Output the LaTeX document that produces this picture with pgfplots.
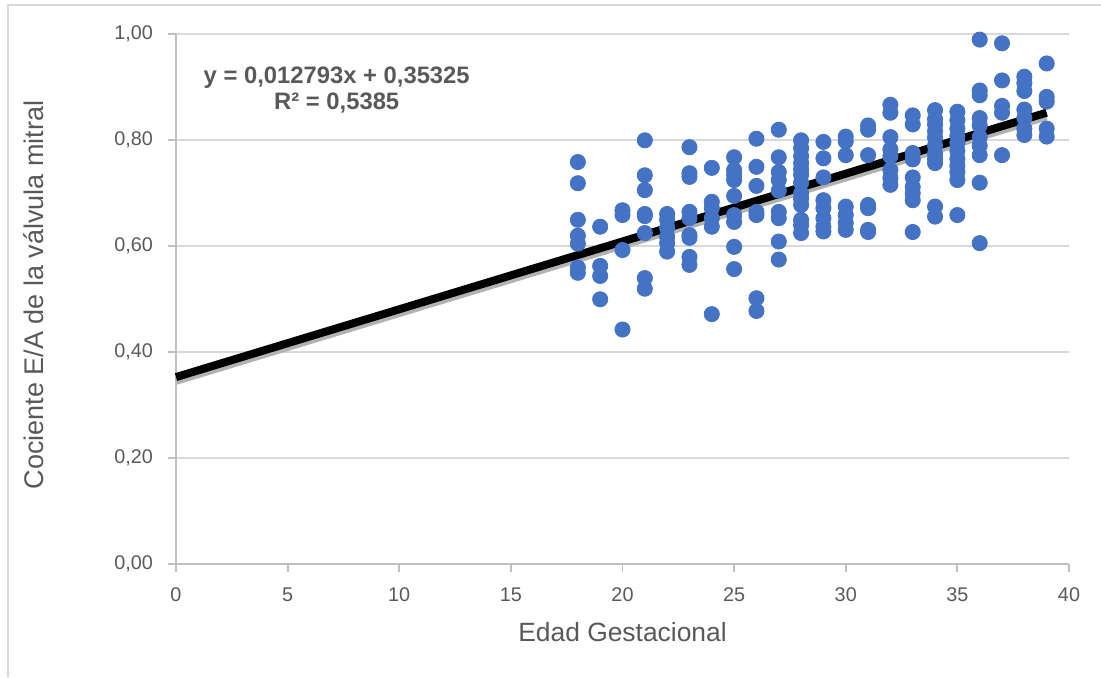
\documentclass[border=0pt]{standalone}
\usepackage{fontspec}
\setmainfont{Liberation Sans}
\usepackage{pgfplots}
\pgfplotsset{compat=1.18}

\definecolor{txtgray}{HTML}{595959}
\definecolor{gridgray}{HTML}{D9D9D9}
\definecolor{axgray}{HTML}{BFBFBF}
\definecolor{dotblue}{HTML}{4472C4}

\begin{document}
\begin{tikzpicture}
% frame of the chart area (only top and left edges are visible)
\path[use as bounding box] (-88pt,-56.35pt) rectangle (462.5pt,282.15pt);
\draw[gridgray, line width=1pt] (-84pt,-56.35pt) -- (-84pt,279.65pt) -- (462.5pt,279.65pt);
\begin{axis}[
    at={(0,0)}, anchor=south west,
    scale only axis,
    width=446.5pt, height=265pt,
    xmin=0, xmax=40, ymin=0, ymax=1,
    xtick={0,5,...,40},
    ytick={0,0.2,...,1.0},
    axis x line=bottom, axis y line=left,
    axis line style={axgray, line width=0.9pt, -},
    tick align=outside,
    major tick length=4pt,
    tick style={axgray, line width=0.9pt},
    ymajorgrids,
    grid style={gridgray, line width=0.9pt},
    /pgf/number format/assume math mode=true,
    yticklabel style={/pgf/number format/use comma, /pgf/number format/fixed,
        /pgf/number format/fixed zerofill, /pgf/number format/precision=2},
    ticklabel style={font=\fontsize{9.9}{11}\selectfont, text=txtgray},
    xticklabel style={yshift=-4pt},
    yticklabel style={xshift=-4pt},
    xlabel={Edad Gestacional},
    ylabel={Cociente E/A de la válvula mitral},
    label style={text=txtgray},
    xlabel style={font=\fontsize{13.2}{15}\selectfont, at={(axis description cs:0.5,-0.128)}, anchor=center},
    ylabel style={font=\fontsize{13.5}{15}\selectfont, at={(axis description cs:-0.159,0.508)}, anchor=center},
    clip=false,
]
\addplot[only marks, mark=*, mark size=3.8pt, mark options={draw=dotblue, fill=dotblue}] coordinates {
(18,0.759) (18,0.719) (18,0.650) (18,0.620) (18,0.605) (18,0.560) (18,0.550)
(19,0.637) (19,0.563) (19,0.544) (19,0.500)
(20,0.668) (20,0.659) (20,0.593) (20,0.443)
(21,0.800) (21,0.734) (21,0.706) (21,0.661) (21,0.657) (21,0.625) (21,0.540) (21,0.520)
(22,0.661) (22,0.650) (22,0.635) (22,0.618) (22,0.606) (22,0.590)
(23,0.787) (23,0.738) (23,0.731) (23,0.665) (23,0.653) (23,0.621) (23,0.616) (23,0.580) (23,0.565)
(24,0.748) (24,0.684) (24,0.672) (24,0.653) (24,0.637) (24,0.472)
(25,0.768) (25,0.744) (25,0.734) (25,0.725) (25,0.695) (25,0.659) (25,0.646) (25,0.599) (25,0.557)
(26,0.803) (26,0.750) (26,0.714) (26,0.665) (26,0.659) (26,0.502) (26,0.478)
(27,0.820) (27,0.768) (27,0.740) (27,0.725) (27,0.705) (27,0.665) (27,0.653) (27,0.609) (27,0.575)
(28,0.800) (28,0.785) (28,0.770) (28,0.757) (28,0.745) (28,0.735) (28,0.720) (28,0.700) (28,0.690) (28,0.678) (28,0.650) (28,0.640) (28,0.625)
(29,0.797) (29,0.766) (29,0.730) (29,0.687) (29,0.672) (29,0.653) (29,0.637) (29,0.628)
(30,0.807) (30,0.798) (30,0.772) (30,0.675) (30,0.659) (30,0.644) (30,0.631)
(31,0.828) (31,0.820) (31,0.772) (31,0.678) (31,0.672) (31,0.631) (31,0.627)
(32,0.867) (32,0.852) (32,0.806) (32,0.783) (32,0.770) (32,0.744) (32,0.729) (32,0.716)
(33,0.847) (33,0.830) (33,0.776) (33,0.764) (33,0.730) (33,0.712) (33,0.700) (33,0.687) (33,0.627)
(34,0.857) (34,0.840) (34,0.830) (34,0.817) (34,0.805) (34,0.790) (34,0.775) (34,0.765) (34,0.757) (34,0.675) (34,0.656)
(35,0.854) (35,0.838) (35,0.822) (35,0.808) (35,0.795) (35,0.780) (35,0.765) (35,0.752) (35,0.740) (35,0.725) (35,0.659)
(36,0.990) (36,0.894) (36,0.885) (36,0.842) (36,0.828) (36,0.806) (36,0.790) (36,0.772) (36,0.720) (36,0.606)
(37,0.983) (37,0.913) (37,0.865) (37,0.852) (37,0.772)
(38,0.920) (38,0.908) (38,0.893) (38,0.858) (38,0.842) (38,0.822) (38,0.810)
(39,0.945) (39,0.882) (39,0.873) (39,0.822) (39,0.807)
};
% linear trend line with its soft shadow
\addplot[gray!60, line width=3pt, transform canvas={yshift=-2.4pt}] coordinates {(0,0.35325) (39,0.852177)};
\addplot[black, line width=4pt] coordinates {(0,0.35325) (39,0.852177)};
\node[align=center, font=\bfseries\fontsize{11.9}{13}\selectfont, text=txtgray, inner sep=0pt]
    at (axis cs:7.2,0.894) {y = 0,012793x + 0,35325\\R² = 0,5385};
\end{axis}
\end{tikzpicture}
\end{document}
